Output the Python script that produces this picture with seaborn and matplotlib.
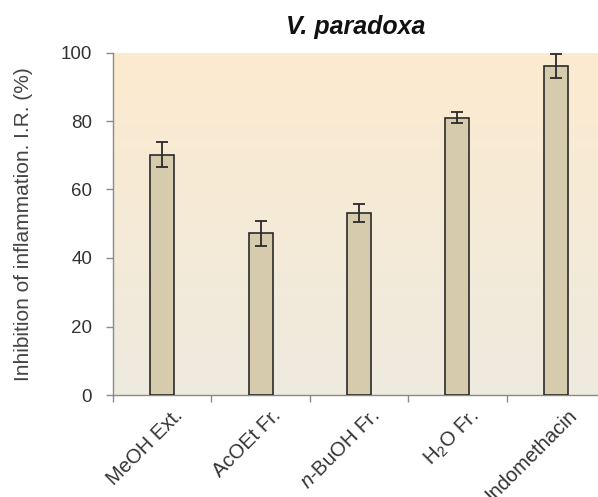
import numpy as np
import pandas as pd
import matplotlib
matplotlib.use("Agg")
import matplotlib.pyplot as plt
import matplotlib.transforms as mtransforms
from matplotlib.colors import LinearSegmentedColormap
import seaborn as sns

categories = ["MeOH Ext.", "AcOEt Fr.", "n-BuOH Fr.", "H2O Fr.", "Indomethacin"]
tick_labels = ["MeOH Ext.", "AcOEt Fr.", r"$\it{n}$-BuOH Fr.", r"H$_2$O Fr.", "Indomethacin"]
values = [70.2, 47.2, 53.1, 81.0, 96.1]
errors = [3.7, 3.6, 2.6, 1.5, 3.5]
yticks = [0, 20, 40, 60, 80, 100]

sns.set_theme(style="white")
plt.rcParams["font.family"] = ["Liberation Sans", "DejaVu Sans"]
plt.rcParams["mathtext.fontset"] = "custom"
plt.rcParams["mathtext.rm"] = "Liberation Sans"
plt.rcParams["mathtext.it"] = "Liberation Sans:italic"

W, H = 598, 497
fig = plt.figure(figsize=(W / 100, H / 100), dpi=100)
left, right, top, bottom = 113, 605, 52.5, 395
ax = fig.add_axes([left / W, 1 - bottom / H, (right - left) / W, (bottom - top) / H])

df = pd.DataFrame({"cat": categories, "val": values})
sns.barplot(data=df, x="cat", y="val", ax=ax, color="#D6CCAD", width=0.245,
            edgecolor="#2a2a2a", linewidth=1.2, errorbar=None, saturation=1, zorder=3)
ax.errorbar(np.arange(len(values)), values, yerr=errors, fmt="none",
            ecolor="#2a2a2a", elinewidth=1.3, capsize=4.5, capthick=1.3, zorder=4)

# background gradient
cmap = LinearSegmentedColormap.from_list("bg", ["#EEEADF", "#FCEBCF"])
grad = np.linspace(0, 1, 256).reshape(-1, 1)
ax.imshow(grad, aspect="auto", cmap=cmap, origin="lower",
          extent=(-0.5, 4.5, 0, 100), zorder=0)
ax.set_xlim(-0.5, 4.5)
ax.set_ylim(0, 100)

for s in ["top", "right"]:
    ax.spines[s].set_visible(False)
for s in ["left", "bottom"]:
    ax.spines[s].set_color("#8a8a8a")
    ax.spines[s].set_linewidth(1.0)

ax.set_yticks(yticks)
ax.set_yticklabels([str(v) for v in yticks], fontsize=13.5, color="#333333")
ax.tick_params(axis="y", direction="out", length=5, width=1, color="#8a8a8a", pad=10, left=True)

ax.set_xticks(range(len(categories)))
ax.set_xticks(np.arange(-0.5, 5, 1.0), minor=True)
ax.tick_params(axis="x", which="major", length=0, pad=2)
ax.tick_params(axis="x", which="minor", direction="out", length=5, width=1, color="#8a8a8a", bottom=True)
ax.set_xticklabels(tick_labels, rotation=45, ha="right", rotation_mode="anchor",
                   fontsize=14.5, color="#333333")
offset = mtransforms.ScaledTranslation(11 / 100, -8 / 100, fig.dpi_scale_trans)
for lab in ax.get_xticklabels():
    lab.set_transform(lab.get_transform() + offset)

ax.set_xlabel("")
ax.set_ylabel("Inhibition of inflammation. I.R. (%)", fontsize=15, color="#444444")
ax.yaxis.set_label_coords(-(left - 33) / (right - left), 0.5)
ax.set_title("V. paradoxa", fontsize=18, fontweight="bold", fontstyle="italic",
             color="#111111", pad=13, x=0.493)

fig.savefig("out.png", dpi=100)
